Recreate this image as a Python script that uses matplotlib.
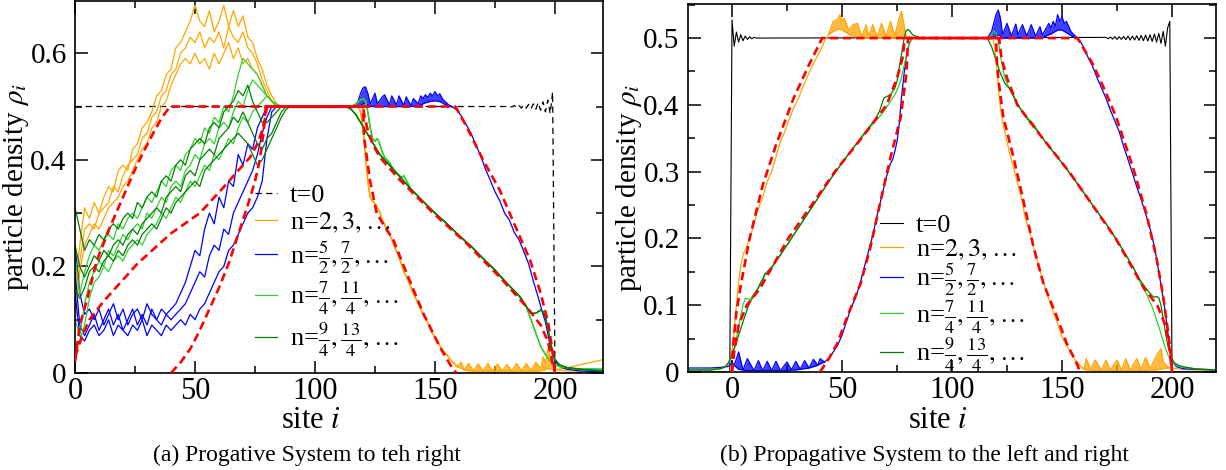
import numpy as np
import matplotlib
matplotlib.use("Agg")
import matplotlib.pyplot as plt
from matplotlib.ticker import MultipleLocator, FuncFormatter

plt.rcParams["font.family"] = ["Liberation Serif", "DejaVu Serif"]
plt.rcParams["mathtext.fontset"] = "stix"

# ---------------- colours ----------------
C_T0 = "black"
C_OR = "#ffa500"
C_BL = "#0000ff"
C_LG = "#2fd02f"
C_DG = "#008000"
C_TH = "#ff0000"

LEGEND_LABELS = [
    "t=0",
    r"n=$2, 3, \ldots$",
    r"n=$\frac{5}{2}, \frac{7}{2}, \ldots$",
    r"n=$\frac{7}{4}, \frac{11}{4}, \ldots$",
    r"n=$\frac{9}{4}, \frac{13}{4}, \ldots$",
]
CAPTION_A = "(a) Progative System to teh right"
CAPTION_B = "(b) Propagative System to the left and right"

# =====================================================================
# (a) propagation to the right
# =====================================================================
# fluctuating region, sites 0..90 (every second site), three snapshots per family
A_SITES_L = np.arange(0, 92, 2)

A_OR_1 = [0.16, 0.24, 0.31, 0.29, 0.32, 0.30, 0.33, 0.35, 0.34, 0.38, 0.39, 0.38, 0.42, 0.43, 0.46, 0.47,
          0.49, 0.52, 0.53, 0.56, 0.57, 0.61, 0.62, 0.64, 0.66, 0.69, 0.66, 0.65, 0.68, 0.64, 0.66, 0.69,
          0.65, 0.68, 0.65, 0.67, 0.63, 0.62, 0.59, 0.57, 0.54, 0.52, 0.505, 0.50, 0.50, 0.50]
A_OR_2 = [0.12, 0.21, 0.27, 0.28, 0.27, 0.30, 0.31, 0.32, 0.35, 0.34, 0.37, 0.39, 0.40, 0.41, 0.44, 0.45,
          0.48, 0.49, 0.52, 0.53, 0.56, 0.57, 0.60, 0.61, 0.63, 0.62, 0.64, 0.61, 0.63, 0.62, 0.64, 0.61,
          0.65, 0.63, 0.62, 0.64, 0.61, 0.60, 0.58, 0.55, 0.53, 0.51, 0.50, 0.50, 0.50, 0.50]
A_OR_3 = [0.09, 0.19, 0.24, 0.26, 0.28, 0.27, 0.29, 0.31, 0.32, 0.33, 0.35, 0.36, 0.38, 0.40, 0.42, 0.43,
          0.46, 0.47, 0.50, 0.51, 0.54, 0.56, 0.58, 0.59, 0.58, 0.60, 0.58, 0.59, 0.57, 0.60, 0.58, 0.60,
          0.62, 0.59, 0.61, 0.58, 0.59, 0.57, 0.56, 0.54, 0.52, 0.51, 0.50, 0.50, 0.50, 0.50]

A_BL_1 = [0.24, 0.15, 0.11, 0.12, 0.10, 0.12, 0.09, 0.11, 0.13, 0.10, 0.12, 0.09, 0.11, 0.12, 0.10, 0.13,
          0.11, 0.10, 0.12, 0.11, 0.12, 0.13, 0.15, 0.17, 0.20, 0.23, 0.22, 0.27, 0.30, 0.28, 0.33, 0.31,
          0.36, 0.35, 0.41, 0.39, 0.43, 0.42, 0.46, 0.48, 0.50, 0.50, 0.50, 0.50, 0.50, 0.50]
A_BL_2 = [0.19, 0.09, 0.07, 0.09, 0.11, 0.08, 0.10, 0.12, 0.09, 0.11, 0.08, 0.10, 0.12, 0.09, 0.11, 0.09,
          0.12, 0.10, 0.09, 0.11, 0.10, 0.11, 0.12, 0.13, 0.15, 0.17, 0.19, 0.18, 0.22, 0.24, 0.23, 0.27,
          0.26, 0.30, 0.32, 0.34, 0.36, 0.38, 0.41, 0.45, 0.48, 0.50, 0.50, 0.50, 0.50, 0.50]
A_BL_3 = [0.15, 0.07, 0.06, 0.08, 0.09, 0.07, 0.08, 0.10, 0.07, 0.09, 0.08, 0.07, 0.09, 0.08, 0.10, 0.07,
          0.09, 0.08, 0.07, 0.09, 0.08, 0.09, 0.10, 0.09, 0.11, 0.10, 0.12, 0.13, 0.15, 0.17, 0.19, 0.20,
          0.23, 0.24, 0.26, 0.28, 0.30, 0.31, 0.33, 0.36, 0.44, 0.49, 0.50, 0.50, 0.50, 0.50]

A_LG_1 = [0.22, 0.15, 0.19, 0.22, 0.24, 0.23, 0.25, 0.26, 0.25, 0.28, 0.27, 0.29, 0.30, 0.29, 0.31, 0.33,
          0.32, 0.34, 0.36, 0.35, 0.38, 0.39, 0.38, 0.41, 0.42, 0.44, 0.43, 0.46, 0.45, 0.48, 0.47, 0.50,
          0.49, 0.52, 0.56, 0.59, 0.58, 0.57, 0.56, 0.54, 0.52, 0.51, 0.505, 0.50, 0.50, 0.50]
A_LG_2 = [0.10, 0.07, 0.13, 0.17, 0.19, 0.21, 0.20, 0.23, 0.22, 0.24, 0.26, 0.25, 0.27, 0.28, 0.27, 0.30,
          0.29, 0.31, 0.33, 0.32, 0.35, 0.36, 0.35, 0.38, 0.39, 0.41, 0.40, 0.43, 0.44, 0.43, 0.46, 0.47,
          0.46, 0.49, 0.51, 0.50, 0.53, 0.55, 0.54, 0.53, 0.52, 0.51, 0.50, 0.50, 0.50, 0.50]
A_LG_3 = [0.05, 0.06, 0.09, 0.14, 0.17, 0.18, 0.20, 0.19, 0.21, 0.22, 0.21, 0.23, 0.24, 0.25, 0.24, 0.26,
          0.27, 0.28, 0.30, 0.29, 0.31, 0.33, 0.32, 0.34, 0.36, 0.35, 0.37, 0.39, 0.38, 0.41, 0.40, 0.42,
          0.44, 0.43, 0.46, 0.48, 0.47, 0.49, 0.50, 0.51, 0.52, 0.51, 0.50, 0.50, 0.50, 0.50]

A_DG_1 = [0.31, 0.27, 0.23, 0.25, 0.24, 0.26, 0.25, 0.27, 0.28, 0.27, 0.29, 0.30, 0.29, 0.32, 0.31, 0.33,
          0.34, 0.33, 0.36, 0.37, 0.36, 0.39, 0.40, 0.39, 0.42, 0.43, 0.44, 0.43, 0.46, 0.47, 0.46, 0.49,
          0.50, 0.51, 0.53, 0.52, 0.54, 0.51, 0.49, 0.47, 0.47, 0.48, 0.49, 0.50, 0.50, 0.50]
A_DG_2 = [0.24, 0.20, 0.18, 0.20, 0.22, 0.21, 0.23, 0.22, 0.24, 0.25, 0.24, 0.26, 0.27, 0.26, 0.28, 0.29,
          0.30, 0.31, 0.30, 0.33, 0.34, 0.35, 0.34, 0.37, 0.38, 0.37, 0.40, 0.41, 0.42, 0.41, 0.44, 0.45,
          0.46, 0.48, 0.47, 0.49, 0.47, 0.45, 0.43, 0.42, 0.44, 0.45, 0.47, 0.49, 0.50, 0.50]
A_DG_3 = [0.16, 0.14, 0.16, 0.19, 0.20, 0.19, 0.21, 0.22, 0.21, 0.23, 0.22, 0.24, 0.25, 0.24, 0.26, 0.27,
          0.28, 0.27, 0.29, 0.31, 0.30, 0.32, 0.33, 0.34, 0.35, 0.36, 0.35, 0.38, 0.39, 0.40, 0.41, 0.42,
          0.43, 0.44, 0.45, 0.44, 0.43, 0.41, 0.39, 0.40, 0.42, 0.44, 0.46, 0.48, 0.495, 0.50]

# deterministic region (all snapshots coincide)
A_OR_RX = [90, 118, 119, 120, 121, 122, 123, 124, 125, 126, 127, 128, 129, 130, 131, 133, 135, 137, 139,
           141, 143, 145, 147, 149, 151, 153, 155, 157, 158]
A_OR_RY = [0.5, 0.5, 0.49, 0.46, 0.41, 0.36, 0.33, 0.322, 0.318, 0.31, 0.302, 0.287, 0.279, 0.266, 0.262,
           0.238, 0.218, 0.19, 0.172, 0.148, 0.131, 0.11, 0.095, 0.074, 0.06, 0.043, 0.034, 0.022, 0.018]
A_OR_TX = [158, 159, 161, 162, 164, 166, 168, 170, 172, 174, 176, 178, 180, 182, 184, 186, 188, 190, 192,
           194, 195, 196, 197, 198, 199, 200]
A_OR_TLO = [0.018, 0.012, 0.009, 0.006, 0.004, 0.003, 0.003, 0.003, 0.003, 0.003, 0.003, 0.003, 0.003,
            0.003, 0.003, 0.003, 0.003, 0.003, 0.003, 0.004, 0.005, 0.006, 0.008, 0.008, 0.007, 0.006]
A_OR_THI = [0.018, 0.012, 0.02, 0.006, 0.018, 0.004, 0.017, 0.004, 0.018, 0.004, 0.017, 0.004, 0.016,
            0.004, 0.018, 0.004, 0.018, 0.005, 0.02, 0.008, 0.03, 0.02, 0.045, 0.03, 0.015, 0.006]
A_OR_EX = [200, 205, 210, 215, 220]
A_OR_E1 = [0.006, 0.01, 0.015, 0.02, 0.025]
A_OR_E2 = [0.006, 0.004, 0.003, 0.003, 0.003]

A_BL_MX = [90, 116]
A_BL_MY = [0.5, 0.5]
A_BL_PX = [116, 118, 119, 120, 121, 122, 123, 125, 126, 128, 129, 131, 132, 134, 135, 137, 138, 140, 141,
           143, 144, 145, 146, 147, 148, 149, 150, 151, 152, 153, 154, 156, 157]
A_BL_PLO = [0.5, 0.5, 0.502, 0.505, 0.505, 0.503, 0.5, 0.5, 0.5, 0.5, 0.5, 0.5, 0.5, 0.5, 0.5, 0.5, 0.5,
            0.5, 0.5, 0.5, 0.503, 0.505, 0.507, 0.508, 0.51, 0.51, 0.511, 0.51, 0.509, 0.507, 0.504, 0.5, 0.5]
A_BL_PHI = [0.5, 0.51, 0.525, 0.535, 0.537, 0.525, 0.505, 0.525, 0.505, 0.518, 0.522, 0.503, 0.52, 0.503,
            0.52, 0.502, 0.518, 0.502, 0.515, 0.505, 0.52, 0.515, 0.522, 0.517, 0.525, 0.52, 0.528, 0.52,
            0.524, 0.515, 0.51, 0.502, 0.5]
A_BL_RX = [157, 159, 161, 163, 165, 167, 169, 171, 173, 175, 177, 179, 181, 183, 185, 187, 189, 191, 193,
           195, 196, 197, 198, 199, 200, 202, 205, 210, 220]
A_BL_RY = [0.5, 0.494, 0.482, 0.466, 0.45, 0.428, 0.408, 0.383, 0.362, 0.34, 0.323, 0.3, 0.287, 0.264,
           0.25, 0.228, 0.205, 0.172, 0.142, 0.11, 0.096, 0.074, 0.05, 0.035, 0.022, 0.012, 0.007, 0.004, 0.002]

A_LG_RX = [90, 115, 117, 119, 120, 121, 122, 123, 124, 125, 126, 127, 128, 129, 130, 131, 133, 136, 137,
           140, 145, 150, 155, 160, 165, 170, 175, 180, 184, 186, 188, 190, 192, 194, 196, 198, 200, 202,
           205, 210, 220]
A_LG_RY = [0.5, 0.5, 0.505, 0.512, 0.515, 0.51, 0.49, 0.46, 0.44, 0.435, 0.44, 0.43, 0.415, 0.405, 0.40,
           0.395, 0.38, 0.367, 0.37, 0.345, 0.322, 0.3, 0.28, 0.258, 0.238, 0.215, 0.193, 0.168, 0.15, 0.14,
           0.125, 0.1, 0.075, 0.05, 0.035, 0.022, 0.015, 0.012, 0.01, 0.008, 0.007]
A_DG_RX = [90, 113, 115, 117, 119, 121, 123, 125, 127, 130, 133, 136, 140, 145, 150, 155, 160, 165, 170,
           175, 180, 185, 188, 190, 192, 194, 195, 196, 197, 198, 199, 200, 202, 205, 210, 220]
A_DG_RY = [0.5, 0.5, 0.495, 0.485, 0.47, 0.455, 0.44, 0.425, 0.41, 0.395, 0.38, 0.365, 0.345, 0.322, 0.3,
           0.28, 0.258, 0.238, 0.215, 0.193, 0.168, 0.145, 0.125, 0.112, 0.112, 0.118, 0.115, 0.105, 0.085,
           0.06, 0.04, 0.025, 0.015, 0.01, 0.007, 0.004]

# initial state
A_T0_X = [0] + list(range(180, 200)) + [200, 220]
A_T0_Y = [0.5, 0.5, 0.501, 0.499, 0.502, 0.498, 0.502, 0.497, 0.503, 0.497, 0.504, 0.496, 0.505, 0.495,
          0.507, 0.493, 0.509, 0.49, 0.512, 0.487, 0.527, 0.0, 0.0]

# hydrodynamic predictions
A_TH_OR_X = [0, 2, 5, 9, 14.6, 20, 24.3, 28, 32.6, 36, 39.6, 120, 120.5, 122.9, 125.7, 129, 132.6, 138.2,
             145.1, 152, 157.6, 159]
A_TH_OR_Y = [0.02, 0.09, 0.137, 0.21, 0.274, 0.33, 0.375, 0.41, 0.45, 0.478, 0.5, 0.5, 0.44, 0.362, 0.30,
             0.275, 0.25, 0.187, 0.112, 0.049, 0.006, 0.0]
A_TH_BL_X = [40, 44, 48, 52, 56, 60, 64, 68, 72, 75, 77, 78.5, 79.5, 158.5, 163.2, 170, 177, 183, 189.6,
             194, 197.2, 199, 200]
A_TH_BL_Y = [0.0, 0.02, 0.045, 0.08, 0.12, 0.16, 0.205, 0.26, 0.315, 0.36, 0.4, 0.45, 0.5, 0.5, 0.462,
             0.40, 0.343, 0.28, 0.212, 0.15, 0.093, 0.04, 0.0]
A_TH_GR_X = [0, 3, 6, 12, 26, 40, 52, 62, 68, 73, 76, 78, 79.3, 80, 120, 120.7, 122, 124, 127, 135.4,
             149.3, 163.2, 177, 188.2, 194, 197, 199.3, 200]
A_TH_GR_Y = [0.03, 0.07, 0.1, 0.135, 0.205, 0.262, 0.30, 0.349, 0.38, 0.405, 0.43, 0.455, 0.48, 0.5, 0.5,
             0.48, 0.455, 0.43, 0.405, 0.362, 0.30, 0.243, 0.18, 0.124, 0.09, 0.06, 0.013, 0.0]

# =====================================================================
# (b) propagation to the left and right
# =====================================================================
B_T0_X = [-20, -1] + list(range(0, 12)) + list(range(170, 200)) + [200, 220]
B_T0_Y = ([0.0, 0.0, 0.527, 0.488, 0.509, 0.494, 0.505, 0.496, 0.503, 0.498, 0.502, 0.499, 0.501, 0.5]
          + [0.501, 0.499, 0.5015, 0.4985, 0.502, 0.498, 0.502, 0.498, 0.5025, 0.4975,
             0.503, 0.497, 0.503, 0.497, 0.5035, 0.4965, 0.504, 0.496, 0.5045, 0.4955,
             0.505, 0.495, 0.506, 0.494, 0.507, 0.492, 0.51, 0.488, 0.515, 0.525]
          + [0.0, 0.0])

B_OR_X1 = [-20, -10, -5, -3, -2, -1, 0, 1, 2, 3, 4, 5, 6, 7, 8, 10, 12, 14, 16, 18, 20, 22, 24, 26, 28,
           30, 32, 34, 36, 38, 40, 42, 44]
B_OR_Y1 = [0.003, 0.004, 0.006, 0.009, 0.012, 0.018, 0.03, 0.06, 0.1, 0.135, 0.16, 0.175, 0.183, 0.19,
           0.198, 0.222, 0.245, 0.262, 0.285, 0.3, 0.322, 0.345, 0.36, 0.378, 0.395, 0.408, 0.425, 0.44,
           0.455, 0.468, 0.48, 0.495, 0.505]
B_OR_PX = [44, 46, 48, 49, 50, 51, 53, 55, 57, 59, 61, 62, 64, 66, 68, 70, 72, 74, 76, 77, 79, 80]
B_OR_PLO = [0.505, 0.51, 0.513, 0.513, 0.512, 0.51, 0.506, 0.503, 0.501, 0.5, 0.5, 0.5, 0.5, 0.5, 0.5,
            0.5, 0.5, 0.5, 0.5, 0.5, 0.5, 0.5]
B_OR_PHI = [0.507, 0.525, 0.528, 0.535, 0.525, 0.53, 0.512, 0.52, 0.522, 0.502, 0.52, 0.503, 0.52, 0.502,
            0.522, 0.502, 0.525, 0.503, 0.53, 0.54, 0.505, 0.5]
B_OR_X2 = [80, 118, 119, 120, 121, 122, 123, 124, 126, 128, 130, 132, 133, 134, 135, 136, 138, 140, 142,
           144, 146, 148, 150, 152, 154, 156, 158]
B_OR_Y2 = [0.5, 0.5, 0.495, 0.47, 0.43, 0.395, 0.375, 0.36, 0.33, 0.305, 0.28, 0.255, 0.235, 0.222, 0.215,
           0.2, 0.175, 0.152, 0.13, 0.11, 0.09, 0.072, 0.053, 0.04, 0.028, 0.018, 0.01]
B_OR_TX = [158, 160, 161, 163, 165, 168, 170, 172, 175, 177, 179, 181, 184, 186, 188, 190, 193, 194, 195,
           196, 198, 200]
B_OR_TLO = [0.01, 0.004, 0.003, 0.003, 0.002, 0.002, 0.002, 0.002, 0.002, 0.002, 0.002, 0.002, 0.002,
            0.002, 0.002, 0.003, 0.003, 0.004, 0.004, 0.005, 0.006, 0.006]
B_OR_THI = [0.01, 0.004, 0.02, 0.004, 0.018, 0.003, 0.018, 0.003, 0.018, 0.003, 0.02, 0.003, 0.02, 0.004,
            0.022, 0.005, 0.025, 0.03, 0.035, 0.015, 0.008, 0.006]
B_OR_X3 = [200, 202, 205, 210, 220]
B_OR_Y3 = [0.006, 0.005, 0.004, 0.003, 0.003]

B_BL_X1 = [-20, -10, -5, -2, -1, 0]
B_BL_Y1 = [0.006, 0.006, 0.007, 0.008, 0.01, 0.015]
B_BL_HX = [0, 1, 3, 5, 7, 10, 12, 14, 16, 18, 20, 22, 25, 27, 29, 31, 33, 35, 37, 39, 40, 42]
B_BL_HLO = [0.015, 0.01, 0.004, 0.003, 0.002, 0.002, 0.002, 0.002, 0.002, 0.002, 0.002, 0.002, 0.002,
            0.003, 0.003, 0.004, 0.005, 0.006, 0.008, 0.01, 0.012, 0.015]
B_BL_HHI = [0.015, 0.01, 0.03, 0.003, 0.02, 0.002, 0.017, 0.002, 0.016, 0.002, 0.016, 0.002, 0.015, 0.003,
            0.016, 0.004, 0.017, 0.006, 0.019, 0.01, 0.02, 0.015]
B_BL_X2 = [42, 44, 46, 48, 50, 52, 54, 56, 58, 60, 62, 64, 66, 68, 70, 72, 73, 74, 75, 76, 77, 78, 79,
           80, 81, 82, 116]
B_BL_Y2 = [0.015, 0.02, 0.03, 0.04, 0.055, 0.075, 0.095, 0.11, 0.13, 0.155, 0.18, 0.205, 0.235, 0.262,
           0.29, 0.312, 0.318, 0.33, 0.345, 0.37, 0.41, 0.44, 0.468, 0.485, 0.495, 0.5, 0.5]
B_BL_PX = [116, 118, 120, 121, 122, 123, 125, 127, 129, 130, 132, 134, 136, 138, 140, 141, 142, 144, 145,
           146, 147, 148, 149, 150, 151, 152, 154, 156, 157]
B_BL_PLO = [0.5, 0.5, 0.502, 0.505, 0.503, 0.5, 0.5, 0.5, 0.5, 0.5, 0.5, 0.5, 0.5, 0.5, 0.5, 0.5, 0.502,
            0.505, 0.506, 0.508, 0.51, 0.512, 0.512, 0.512, 0.51, 0.508, 0.504, 0.5, 0.5]
B_BL_PHI = [0.5, 0.51, 0.535, 0.542, 0.53, 0.505, 0.522, 0.503, 0.521, 0.505, 0.52, 0.503, 0.52, 0.503,
            0.517, 0.505, 0.51, 0.522, 0.515, 0.525, 0.518, 0.535, 0.525, 0.532, 0.522, 0.525, 0.51, 0.503, 0.5]
B_BL_X3 = [157, 158, 160, 162, 164, 166, 168, 170, 172, 174, 176, 178, 180, 182, 184, 186, 188, 190, 192,
           194, 195, 196, 197, 198, 199, 200, 202, 205, 210, 220]
B_BL_Y3 = [0.5, 0.497, 0.485, 0.47, 0.457, 0.44, 0.425, 0.41, 0.392, 0.376, 0.36, 0.338, 0.318, 0.298,
           0.277, 0.258, 0.237, 0.215, 0.188, 0.15, 0.13, 0.11, 0.088, 0.062, 0.035, 0.016, 0.008, 0.005,
           0.004, 0.003]

B_GR_X = [-20, -10, -5, -3, -2, -1,
          0, 1, 2, 3, 4, 5, 6, 7, 8,
          10, 12, 14, 15, 16, 18, 20,
          25, 30, 35, 40, 45, 50, 55, 60, 65,
          67, 68, 69, 70, 72, 74, 75, 76, 77, 78, 79, 80, 81, 82,
          84, 86, 90,
          116, 118, 119, 120, 121, 122, 123, 124,
          126, 128, 130, 133, 137, 141, 145, 150, 155, 160, 165, 170, 175, 180,
          183, 185, 188, 190, 191, 192, 193, 194, 195, 196, 197, 198, 199, 200,
          201, 203, 205, 210, 220]
B_LG_Y = [0.003, 0.003, 0.005, 0.008, 0.011, 0.016,
          0.025, 0.035, 0.05, 0.068, 0.085, 0.1, 0.11, 0.11, 0.108,
          0.117, 0.125, 0.138, 0.145, 0.148, 0.155, 0.165,
          0.19, 0.215, 0.24, 0.265, 0.29, 0.313, 0.335, 0.355, 0.375,
          0.382, 0.386, 0.39, 0.395, 0.405, 0.415, 0.422, 0.43, 0.44, 0.455, 0.47, 0.485, 0.495, 0.5,
          0.502, 0.5, 0.5,
          0.5, 0.505, 0.51, 0.508, 0.495, 0.475, 0.455, 0.44,
          0.425, 0.415, 0.4, 0.385, 0.372, 0.351, 0.334, 0.313, 0.291, 0.268, 0.245, 0.222, 0.197, 0.17,
          0.152, 0.138, 0.12, 0.105, 0.097, 0.088, 0.078, 0.068, 0.057, 0.046, 0.036, 0.027, 0.02, 0.015,
          0.012, 0.009, 0.007, 0.005, 0.003]
B_DG_Y = [0.003, 0.003, 0.005, 0.008, 0.012, 0.018,
          0.028, 0.035, 0.045, 0.055, 0.065, 0.075, 0.085, 0.095, 0.103,
          0.115, 0.127, 0.14, 0.147, 0.15, 0.157, 0.166,
          0.19, 0.215, 0.24, 0.265, 0.29, 0.313, 0.335, 0.357, 0.378,
          0.39, 0.4, 0.41, 0.412, 0.415, 0.425, 0.435, 0.455, 0.475, 0.495, 0.51, 0.513, 0.51, 0.505,
          0.502, 0.5, 0.5,
          0.5, 0.487, 0.477, 0.467, 0.457, 0.447, 0.44, 0.432,
          0.425, 0.412, 0.4, 0.384, 0.368, 0.351, 0.334, 0.313, 0.291, 0.268, 0.245, 0.222, 0.197, 0.17,
          0.153, 0.14, 0.126, 0.118, 0.114, 0.112, 0.113, 0.111, 0.1, 0.08, 0.06, 0.042, 0.03, 0.02,
          0.014, 0.01, 0.008, 0.005, 0.003]

B_TH_OR_X = [0, 0.5, 2, 4, 8, 14, 20, 28, 35, 41, 120, 120.5, 121, 123.3, 127.9, 132.4, 137, 141.5, 147.6,
             152.1, 156.7, 158.2]
B_TH_OR_Y = [0.0, 0.04, 0.09, 0.13, 0.2, 0.28, 0.34, 0.41, 0.46, 0.5, 0.5, 0.46, 0.44, 0.382, 0.322,
             0.257, 0.188, 0.133, 0.083, 0.043, 0.013, 0.0]
B_TH_BL_X = [40, 44, 47.9, 52.4, 58.5, 63, 67.6, 72.1, 76.7, 79, 79.5, 80, 157, 164.2, 170, 174.8, 182.4,
             188.5, 193, 196, 198.3, 199.5, 200]
B_TH_BL_Y = [0.0, 0.02, 0.043, 0.083, 0.133, 0.188, 0.257, 0.322, 0.382, 0.44, 0.46, 0.5, 0.5, 0.46,
             0.418, 0.38, 0.305, 0.235, 0.17, 0.113, 0.058, 0.025, 0.0]
B_TH_GR_X = [0, 1, 3, 6.7, 12.7, 25.6, 46.8, 60, 70.3, 75, 77.5, 78.6, 121.4, 122.5, 125, 129.7, 140,
             153.2, 174.4, 187.3, 193.3, 197, 199, 200]
B_TH_GR_Y = [0.0, 0.03, 0.07, 0.1, 0.125, 0.2, 0.3, 0.355, 0.4, 0.44, 0.47, 0.5, 0.5, 0.47, 0.44, 0.4,
             0.355, 0.3, 0.2, 0.125, 0.1, 0.07, 0.03, 0.0]

# =====================================================================
LW = 0.9


def curve(ax, x, y, color, **kw):
    return ax.plot(x, y, color=color, lw=LW, zorder=2, **kw)[0]


def band(ax, x, lo, hi, color):
    ax.fill_between(x, lo, hi, color=color, lw=0, alpha=0.75, zorder=2)
    ax.plot(x, lo, color=color, lw=LW, zorder=2)
    ax.plot(x, hi, color=color, lw=LW, zorder=2)


def theory(ax, x, y):
    ax.plot(x, y, color=C_TH, lw=1.9, dashes=(3.2, 1.8), zorder=4)


def style(ax, ymajor, yminor):
    ax.xaxis.set_major_locator(MultipleLocator(50))
    ax.xaxis.set_minor_locator(MultipleLocator(25))
    ax.yaxis.set_major_locator(MultipleLocator(ymajor))
    ax.yaxis.set_minor_locator(MultipleLocator(yminor))
    ax.yaxis.set_major_formatter(FuncFormatter(lambda v, p: "0" if abs(v) < 1e-9 else f"{v:.1f}"))
    ax.xaxis.set_major_formatter(FuncFormatter(lambda v, p: f"{v:.0f}"))
    ax.tick_params(which="both", direction="in", top=True, right=True, width=1.1)
    ax.tick_params(which="major", length=9)
    ax.tick_params(which="minor", length=5)
    ax.tick_params(axis="x", which="major", labelsize=22, pad=3)
    ax.tick_params(axis="y", which="major", labelsize=21, pad=6)
    for s in ax.spines.values():
        s.set_linewidth(1.2)
    ax.set_xlabel(r"site $i$", fontsize=22)
    ax.set_ylabel(r"particle density $\rho_i$", fontsize=21)


W, H = 1226, 470
fig = plt.figure(figsize=(W / 100, H / 100), dpi=100)
ax_a = fig.add_axes([75 / W, 1 - 373 / H, 528 / W, 372 / H])
ax_b = fig.add_axes([688 / W, 1 - 372 / H, 528 / W, 368 / H])

# ---------------- panel (a) ----------------
h_t0a = ax_a.plot(A_T0_X, A_T0_Y, color=C_T0, lw=0.9, dashes=(5, 3.5), zorder=1)[0]
h_or = None
for ys in (A_OR_1, A_OR_2, A_OR_3):
    h = curve(ax_a, np.concatenate([A_SITES_L, A_OR_RX[1:]]), np.concatenate([ys, A_OR_RY[1:]]), C_OR)
    h_or = h_or or h
band(ax_a, A_OR_TX, A_OR_TLO, A_OR_THI, C_OR)
curve(ax_a, A_OR_EX, A_OR_E1, C_OR)
curve(ax_a, A_OR_EX, A_OR_E2, C_OR)

h_bl = None
for ys in (A_BL_1, A_BL_2, A_BL_3):
    h = curve(ax_a, A_SITES_L, ys, C_BL)
    h_bl = h_bl or h
curve(ax_a, A_BL_MX, A_BL_MY, C_BL)
band(ax_a, A_BL_PX, A_BL_PLO, A_BL_PHI, C_BL)
curve(ax_a, A_BL_RX, A_BL_RY, C_BL)

h_lg = None
for ys in (A_LG_1, A_LG_2, A_LG_3):
    h = curve(ax_a, np.concatenate([A_SITES_L, A_LG_RX[1:]]), np.concatenate([ys, A_LG_RY[1:]]), C_LG)
    h_lg = h_lg or h
h_dg = None
for ys in (A_DG_1, A_DG_2, A_DG_3):
    h = curve(ax_a, np.concatenate([A_SITES_L, A_DG_RX[1:]]), np.concatenate([ys, A_DG_RY[1:]]), C_DG)
    h_dg = h_dg or h

for tx, ty in ((A_TH_OR_X, A_TH_OR_Y), (A_TH_BL_X, A_TH_BL_Y), (A_TH_GR_X, A_TH_GR_Y)):
    theory(ax_a, tx, ty)

ax_a.set_xlim(0, 220)
ax_a.set_ylim(0, 0.698)
style(ax_a, 0.2, 0.1)
ax_a.yaxis.set_label_coords(-0.0835, 0.5)
ax_a.xaxis.set_label_coords(0.447, -0.088)
ax_a.legend([h_t0a, h_or, h_bl, h_lg, h_dg], LEGEND_LABELS, loc="upper left",
            bbox_to_anchor=(0.34, 0.51), frameon=False, fontsize=19, handlelength=0.85,
            handletextpad=0.5, labelspacing=0.15, borderaxespad=0, borderpad=0)

# ---------------- panel (b) ----------------
h_t0b = ax_b.plot(B_T0_X, B_T0_Y, color=C_T0, lw=0.8, zorder=1)[0]
h_or = curve(ax_b, B_OR_X1, B_OR_Y1, C_OR)
band(ax_b, B_OR_PX, B_OR_PLO, B_OR_PHI, C_OR)
curve(ax_b, B_OR_X2, B_OR_Y2, C_OR)
band(ax_b, B_OR_TX, B_OR_TLO, B_OR_THI, C_OR)
curve(ax_b, B_OR_X3, B_OR_Y3, C_OR)

h_bl = curve(ax_b, B_BL_X1, B_BL_Y1, C_BL)
band(ax_b, B_BL_HX, B_BL_HLO, B_BL_HHI, C_BL)
curve(ax_b, B_BL_X2, B_BL_Y2, C_BL)
band(ax_b, B_BL_PX, B_BL_PLO, B_BL_PHI, C_BL)
curve(ax_b, B_BL_X3, B_BL_Y3, C_BL)

h_lg = curve(ax_b, B_GR_X, B_LG_Y, C_LG)
h_dg = curve(ax_b, B_GR_X, B_DG_Y, C_DG)

for tx, ty in ((B_TH_OR_X, B_TH_OR_Y), (B_TH_BL_X, B_TH_BL_Y), (B_TH_GR_X, B_TH_GR_Y)):
    theory(ax_b, tx, ty)

ax_b.set_xlim(-20, 220)
ax_b.set_ylim(0, 0.551)
style(ax_b, 0.1, 0.05)
ax_b.yaxis.set_label_coords(-0.0835, 0.5)
ax_b.xaxis.set_label_coords(0.473, -0.092)
ax_b.legend([h_t0b, h_or, h_bl, h_lg, h_dg], LEGEND_LABELS, loc="upper left",
            bbox_to_anchor=(0.364, 0.43), frameon=False, fontsize=19, handlelength=0.85,
            handletextpad=0.5, labelspacing=0.0, borderaxespad=0, borderpad=0)

fig.text(307 / W, 1 - 455 / H, CAPTION_A, ha="center", va="center", fontsize=17)
fig.text(924 / W, 1 - 455 / H, CAPTION_B, ha="center", va="center", fontsize=17)

fig.savefig("out.png", dpi=100)
